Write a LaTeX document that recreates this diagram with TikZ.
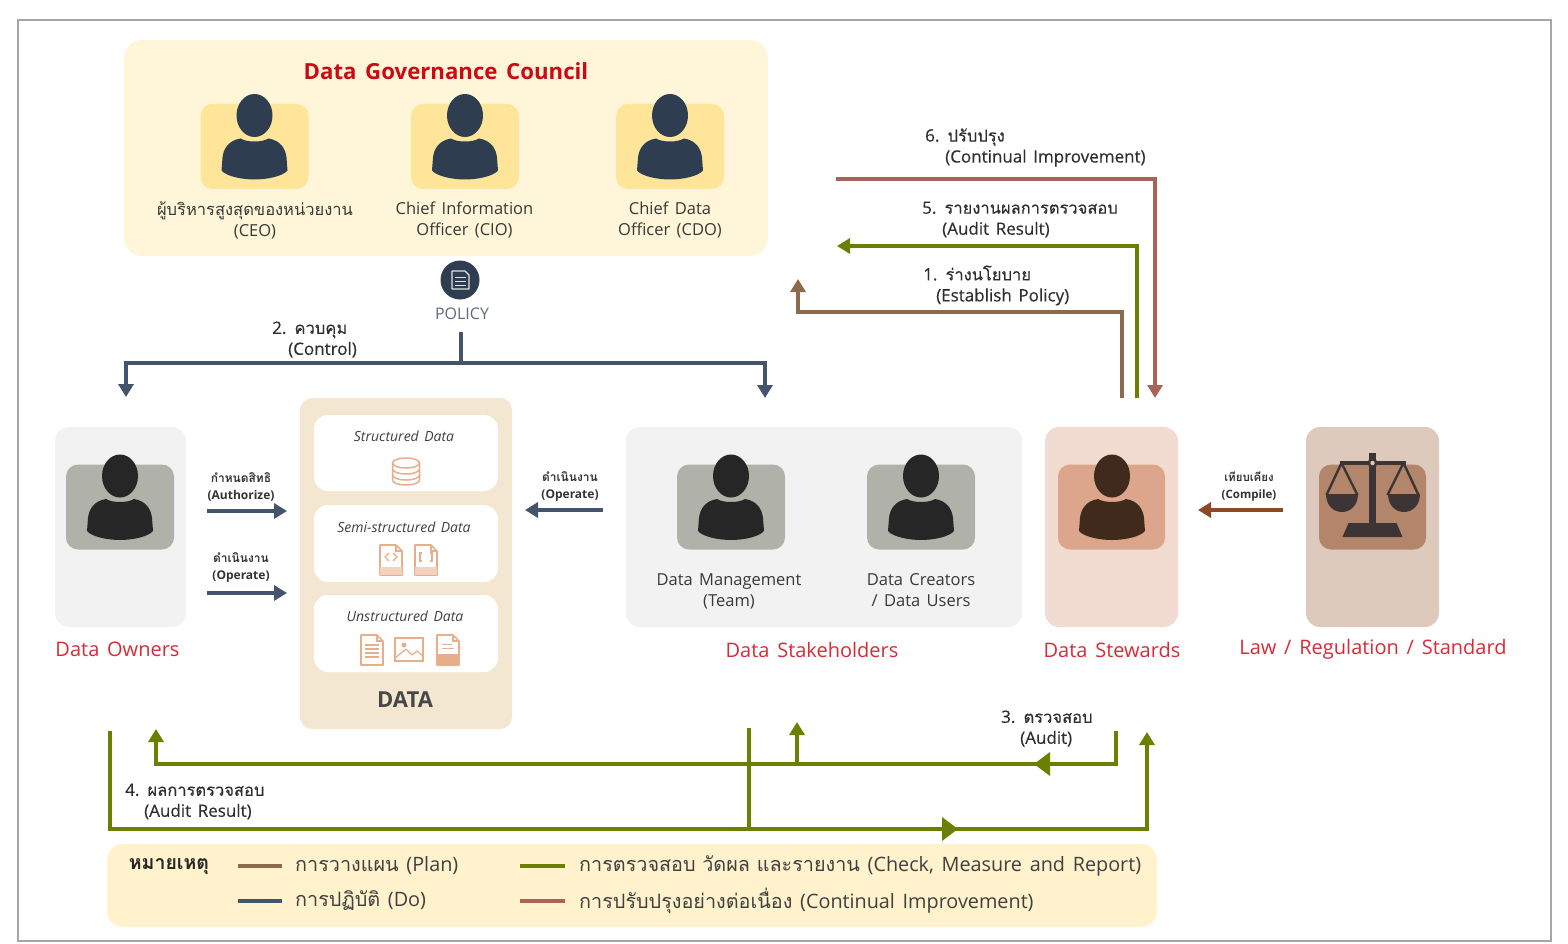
\documentclass[tikz,border=0pt]{standalone}
\usepackage{fontspec}
\setmainfont[WordSpace=1.5]{Open Sans}
\newfontfamily\medfont[WordSpace=1.5,FakeBold=0.3]{Open Sans}
\newfontfamily\thaifont[Script=Thai]{Loma}
\newfontfamily\thaimed[Script=Thai,FakeBold=0.3]{Loma}
\newcommand\T[1]{{\thaifont #1}}
\newcommand\TM[1]{{\thaimed\fontsize{16.5}{21}\selectfont #1}}
\usetikzlibrary{arrows.meta}
\definecolor{navy}{HTML}{2E3E50}
\definecolor{doline}{HTML}{44546A}
\definecolor{planc}{HTML}{8C6A4E}
\definecolor{checkc}{HTML}{6B7F00}
\definecolor{impc}{HTML}{A9635A}
\definecolor{compc}{HTML}{8B4A25}
\definecolor{redt}{HTML}{D62B38}
\definecolor{titlec}{HTML}{CC0A14}
\definecolor{orangei}{HTML}{E8AE8C}
\definecolor{councilf}{HTML}{FFF5D9}
\definecolor{iconyel}{HTML}{FFE599}
\definecolor{policyt}{HTML}{5A6B7B}
\definecolor{palegray}{HTML}{F2F2F2}
\definecolor{midgray}{HTML}{B0B1A8}
\definecolor{darkp}{HTML}{262626}
\definecolor{dataf}{HTML}{F3E7D2}
\definecolor{stewf}{HTML}{F2DBD0}
\definecolor{stewbgc}{HTML}{DBA68B}
\definecolor{stewp}{HTML}{3F2A1C}
\definecolor{lawf}{HTML}{DECABC}
\definecolor{lawbgc}{HTML}{B3866B}
\definecolor{scalec}{HTML}{3D3535}
\definecolor{legf}{HTML}{FFF2CC}
\tikzset{
  x=1pt,y=-1pt,
  panel/.style={rounded corners=14pt,inner sep=0pt,outer sep=0pt,draw=none},
  iconbg/.style={panel,rounded corners=12pt,minimum width=108pt,minimum height=85pt},
  whitebox/.style={panel,fill=white,minimum width=184pt,minimum height=77pt},
  lab/.style={font=\fontsize{16.5}{21}\selectfont,text=black!78,align=center,inner sep=0pt},
  small/.style={font=\fontsize{12}{17}\selectfont\bfseries,text=black!80,align=center,inner sep=0pt},
  steplab/.style={font=\fontsize{17}{21}\selectfont\medfont,text=black!82,align=left,anchor=west,inner sep=0pt},
  redlab/.style={font=\fontsize{20}{22}\selectfont,text=redt,inner sep=0pt},
  itl/.style={font=\fontsize{14}{15}\selectfont\itshape,text=black!75,inner sep=0pt},
  leg/.style={font=\fontsize{19.8}{22}\selectfont,text=black!75,anchor=west,inner sep=0pt},
  conn/.style={line width=4pt,line join=miter},
  tip/.style={-{Triangle[length=13pt,width=15pt]}},
  midtip/.style={-{Triangle[length=16pt,width=23pt]}},
  pics/person/.style={code={
    \fill[#1] (0,0) ellipse [x radius=18pt,y radius=21.5pt];
    \fill[#1] (-14,23) .. controls (-8,27) and (8,27) .. (14,23) .. controls (26,25) and (31,33) .. (32,42) -- (33,55) .. controls (28,61) and (12,64) .. (0,64) .. controls (-12,64) and (-28,61) .. (-33,55) -- (-32,42) .. controls (-31,33) and (-26,25) .. (-14,23) -- cycle;
  }},
  pics/docicon/.style={code={
    \draw[orangei,line width=1.6pt,line join=round] (-11,-15) -- (5,-15) -- (11,-9) -- (11,15) -- (-11,15) -- cycle;
    \draw[orangei,line width=1.2pt] (5,-15) -- (5,-9) -- (11,-9);
    #1
  }},
}
\begin{document}
\begin{tikzpicture}
\useasboundingbox (0,0) rectangle (1568,944);
\node[draw=black!35,line width=2.5pt,inner sep=0pt,minimum width=1533pt,minimum height=921pt] (frame) at (784.5,480.5) {};

% council
\node[panel,rounded corners=18pt,fill=councilf,minimum width=644pt,minimum height=216pt] (council) at (446,148) {};
\node[font=\fontsize{22.2}{26}\selectfont\bfseries,text=titlec,inner sep=0pt] (counciltitle) at (446,71) {Data Governance Council};
\foreach \n/\cx in {ceo/254.5,cio/465,cdo/670}{
  \node[iconbg,fill=iconyel] (\n bg) at (\cx,146.5) {};
  \pic at (\cx,115.5) {person=navy};
}
\node[lab] (ceolab) at (255,220) {\T{ผู้บริหารสูงสุดของหน่วยงาน}\\(CEO)};
\node[lab] (ciolab) at (464.5,220) {Chief Information\\Officer (CIO)};
\node[lab] (cdolab) at (670,220) {Chief Data\\Officer (CDO)};

% policy
\node[circle,fill=navy,minimum size=39pt,inner sep=0pt] (policy) at (460,280) {};
\draw[white!85!navy,line width=1.2pt,line join=round] (452,271) -- (465,271) -- (469,275) -- (469,289) -- (452,289) -- cycle;
\draw[white!85!navy,line width=1pt] (455,277) -- (466,277) (455,281) -- (466,281) (455,285) -- (466,285);
\node[font=\fontsize{16}{18}\selectfont,text=policyt,inner sep=0pt] (policylab) at (462,314) {POLICY};

% do lines
\coordinate (c0) at (461,332);
\coordinate (c1) at (461,363);
\coordinate (cl) at (126,363);
\coordinate (cr) at (765,363);
\coordinate (cla) at (126,397);
\coordinate (cra) at (765,398);
\draw[conn,doline] (c0) -- (c1);
\draw[conn,doline,tip] (c1) -- (cl) -- (cla);
\draw[conn,doline,tip] (c1) -- (cr) -- (cra);
\node[steplab] (ctl) at (272,339.5) {2. \TM{ควบคุม}\\\hspace*{16pt}(Control)};

% data owners
\node[panel,fill=palegray,minimum width=131pt,minimum height=200pt] (owners) at (120.5,527) {};
\node[iconbg,fill=midgray] (ownersbg) at (120,507) {};
\pic at (120,476) {person=darkp};
\node[redlab] (ownerslab) at (117.5,649.5) {Data Owners};

% data
\node[panel,rounded corners=12pt,fill=dataf,minimum width=212pt,minimum height=331pt] (data) at (406,563.5) {};
\node[whitebox,minimum height=76pt] (b1) at (406,453) {};
\node[whitebox] (b2) at (406,543.5) {};
\node[whitebox] (b3) at (406,633.5) {};
\node[itl] (b1t) at (404,436) {Structured Data};
\node[itl] (b2t) at (404,527) {Semi-structured Data};
\node[itl] (b3t) at (405,616) {Unstructured Data};
\node[font=\fontsize{22}{26}\selectfont\bfseries,text=black!72,inner sep=0pt] (datalab) at (405,700) {DATA};
% database icon
\begin{scope}[orangei,line width=1.5pt]
\draw (392.5,463) -- (392.5,480) arc[start angle=180,end angle=360,x radius=13.5pt,y radius=5pt] -- (419.5,463);
\draw (406,463) ellipse [x radius=13.5pt,y radius=5pt];
\draw (392.5,469) arc[start angle=180,end angle=360,x radius=13.5pt,y radius=5pt];
\draw (392.5,475) arc[start angle=180,end angle=360,x radius=13.5pt,y radius=5pt];
\end{scope}
% semi icons
\pic at (391,560) {docicon={\fill[orangei!55!white] (-11,7) rectangle (11,15); \draw[orangei,line width=1.1pt] (-2,-7) -- (-6,-3) -- (-2,1) (2,-7) -- (6,-3) -- (2,1);}};
\pic at (426,560) {docicon={\fill[orangei!55!white] (-11,7) rectangle (11,15); \draw[orangei,line width=1.1pt] (-4,-7) -- (-6,-7) -- (-6,1) -- (-4,1) (4,-7) -- (6,-7) -- (6,1) -- (4,1);}};
% unstructured icons
\pic at (372,650) {docicon={\draw[orangei,line width=1.1pt] (-7,-5) -- (7,-5) (-7,-1) -- (7,-1) (-7,3) -- (7,3) (-7,7) -- (7,7);}};
\draw[orangei,line width=1.6pt] (395,638) rectangle (423,661);
\fill[orangei] (404,645) circle (2.5pt);
\draw[orangei,line width=1.2pt,line join=round] (395,658) -- (406,649) -- (412,655) -- (417,651) -- (423,656);
\pic at (448,650) {docicon={\fill[orangei] (-11,4) rectangle (11,15); \draw[orangei,line width=1pt] (-6,-6) -- (4,-6) (-6,-2) -- (6,-2);}};

% owners arrows
\coordinate (a1s) at (207,511);
\coordinate (a1e) at (287,511);
\coordinate (a2s) at (207,593);
\coordinate (a2e) at (287,593);
\coordinate (a3s) at (603,510);
\coordinate (a3e) at (525,510);
\draw[conn,doline,tip] (a1s) -- (a1e);
\draw[conn,doline,tip] (a2s) -- (a2e);
\draw[conn,doline,tip] (a3s) -- (a3e);
\node[small] (al1) at (241,487) {\T{กำหนดสิทธิ}\\(Authorize)};
\node[small] (al2) at (241,568) {\T{ดำเนินงาน}\\(Operate)};
\node[small] (al3) at (570,487) {\T{ดำเนินงาน}\\(Operate)};

% stakeholders
\node[panel,fill=palegray,minimum width=396pt,minimum height=200pt] (stake) at (824,527) {};
\node[iconbg,fill=midgray] (dmbg) at (731,507) {};
\node[iconbg,fill=midgray] (dcbg) at (921,507) {};
\pic at (731,476) {person=darkp};
\pic at (921,476) {person=darkp};
\node[lab] (dmlab) at (729,591) {Data Management\\(Team)};
\node[lab] (dclab) at (921,590) {Data Creators\\/ Data Users};
\node[redlab] (stakelab) at (812,649.5) {Data Stakeholders};

% stewards
\node[panel,fill=stewf,minimum width=133pt,minimum height=200pt] (stew) at (1111.5,527) {};
\node[iconbg,minimum width=107pt,fill=stewbgc] (stewbg) at (1111.5,507) {};
\pic at (1112,476) {person=stewp};
\node[redlab] (stewlab) at (1112,649.5) {Data Stewards};

% law
\node[panel,fill=lawf,minimum width=133pt,minimum height=200pt] (law) at (1372.5,527) {};
\node[iconbg,minimum width=107pt,fill=lawbgc] (lawbg) at (1372.5,507) {};
\begin{scope}[shift={(1372.5,0)}]
\fill[scalec] (-3.5,453) rectangle (3.5,525);
\fill[scalec] (-33,461) rectangle (33,465);
\draw[scalec,line width=2.4pt,line join=round] (-46,495) -- (-31,463) -- (-15,495);
\draw[scalec,line width=2.4pt,line join=round] (46,495) -- (31,463) -- (15,495);
\fill[scalec] (-47,494) .. controls (-47,518) and (-15,518) .. (-15,494) -- cycle;
\fill[scalec] (47,494) .. controls (47,518) and (15,518) .. (15,494) -- cycle;
\fill[scalec] (-24,523) -- (24,523) -- (30,537) -- (-30,537) -- cycle;
\fill[scalec] (0,463) circle (5pt);
\fill[lawf] (0,463) circle (2.2pt);
\end{scope}
\node[redlab] (lawlab) at (1373,649.5) {Law / Regulation / Standard};

% compile
\coordinate (cps) at (1283,510);
\coordinate (cpe) at (1198,510);
\draw[conn,compc,tip] (cps) -- (cpe);
\node[small,font=\fontsize{11.5}{17}\selectfont\bfseries] (cplab) at (1249,487) {\T{เทียบเคียง}\\(Compile)};

% top right
\coordinate (i0) at (836,179);
\coordinate (i1) at (1155,179);
\coordinate (i2) at (1155,398);
\draw[conn,impc,tip] (i0) -- (i1) -- (i2);
\coordinate (g0) at (1137,398);
\coordinate (g1) at (1137,246);
\coordinate (g2) at (837,246);
\draw[conn,checkc,tip] (g0) -- (g1) -- (g2);
\coordinate (p0) at (1122,398);
\coordinate (p1) at (1122,312);
\coordinate (p2) at (798,312);
\coordinate (p3) at (798,279);
\draw[conn,planc,tip] (p0) -- (p1) -- (p2) -- (p3);
\node[steplab] (s6) at (925,147.5) {6. \TM{ปรับปรุง}\\\hspace*{20pt}(Continual Improvement)};
\node[steplab] (s5) at (922,219.5) {5. \TM{รายงานผลการตรวจสอบ}\\\hspace*{20pt}(Audit Result)};
\node[steplab] (s1) at (923,285.5) {1. \TM{ร่างนโยบาย}\\\hspace*{13pt}(Establish Policy)};

% bottom
\coordinate (u0) at (1116,731);
\coordinate (u1) at (1116,764);
\coordinate (u2) at (156,764);
\coordinate (u3) at (156,729);
\coordinate (ub) at (797,764);
\coordinate (ube) at (797,722);
\coordinate (um1) at (1052,764);
\coordinate (um2) at (1034,764);
\draw[conn,checkc,tip] (u0) -- (u1) -- (u2) -- (u3);
\draw[conn,checkc,tip] (ub) -- (ube);
\draw[conn,checkc,midtip] (um1) -- (um2);
\coordinate (l0) at (110,731);
\coordinate (l1) at (110,829);
\coordinate (l2) at (1147,829);
\coordinate (l3) at (1147,732);
\coordinate (lm1) at (940,829);
\coordinate (lm2) at (958,829);
\coordinate (v0) at (749,728);
\coordinate (v1) at (749,829);
\draw[conn,checkc,tip] (l0) -- (l1) -- (l2) -- (l3);
\draw[conn,checkc,midtip] (lm1) -- (lm2);
\draw[conn,checkc] (v0) -- (v1);
\node[steplab] (s3) at (1001,728.5) {3. \TM{ตรวจสอบ}\\\hspace*{19pt}(Audit)};
\node[steplab] (s4) at (125,801.5) {4. \TM{ผลการตรวจสอบ}\\\hspace*{19pt}(Audit Result)};

% legend
\node[panel,rounded corners=16pt,fill=legf,minimum width=1050pt,minimum height=83pt] (legend) at (632,885.5) {};
\node[font=\fontsize{19.5}{22}\selectfont\bfseries,text=black!85,inner sep=0pt] (legt) at (169,866.5) {\T{หมายเหตุ}};
\coordinate (k1a) at (238,866); \coordinate (k1b) at (282,866);
\coordinate (k2a) at (238,901); \coordinate (k2b) at (282,901);
\coordinate (k3a) at (520,866); \coordinate (k3b) at (565,866);
\coordinate (k4a) at (520,901); \coordinate (k4b) at (565,901);
\draw[conn,planc] (k1a) -- (k1b);
\draw[conn,doline] (k2a) -- (k2b);
\draw[conn,checkc] (k3a) -- (k3b);
\draw[conn,impc] (k4a) -- (k4b);
\node[leg] (t1) at (295,866) {\T{การวางแผน} (Plan)};
\node[leg] (t2) at (295,901) {\T{การปฏิบัติ} (Do)};
\node[leg] (t3) at (579,866) {\T{การตรวจสอบ วัดผล และรายงาน} (Check, Measure and Report)};
\node[leg] (t4) at (579,901) {\T{การปรับปรุงอย่างต่อเนื่อง} (Continual Improvement)};
\end{tikzpicture}
\end{document}
